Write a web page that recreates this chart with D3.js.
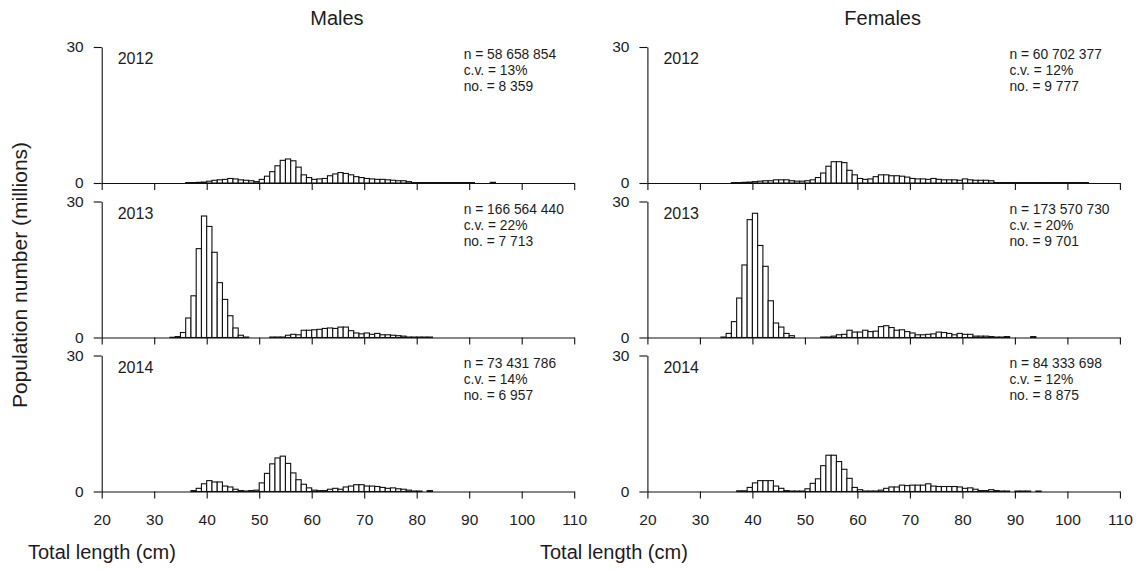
<!DOCTYPE html>
<html>
<head>
<meta charset="utf-8">
<script src="https://cdn.jsdelivr.net/npm/d3@7"></script>
<style>
  html, body { margin: 0; padding: 0; background: #fff; }
  svg { display: block; font-family: "Liberation Sans", Arial, sans-serif; }
</style>
</head>
<body>
<svg id="chart" width="1140" height="572"></svg>
<script>
// Length classes (1 cm bins, lower bound in cm)
const lengthClasses = d3.range(33, 105);

const sexes = ["Males", "Females"];
const years = ["2012", "2013", "2014"];

// Population numbers (millions) per 1 cm class, starting at 33 cm
const males2012 = [
  0, 0, 0, 0.1, 0.1, 0.15, 0.2, 0.4, 0.6, 0.7, 0.8, 1.0, 0.9, 0.7, 0.6, 0.5, 0.3,
  0.8, 1.5, 2.5, 3.8, 5.0, 5.3, 4.9, 3.5, 1.8, 1.2, 0.8, 0.9, 1.0, 1.6, 2.0, 2.3,
  2.1, 1.8, 1.4, 1.2, 1.0, 0.9, 0.8, 0.8, 0.7, 0.6, 0.5, 0.5, 0.3, 0.1, 0.1, 0.1,
  0.1, 0.1, 0.1, 0.1, 0.1, 0.1, 0.1, 0.1, 0.1, 0, 0, 0, 0.15, 0, 0, 0, 0, 0, 0, 0,
  0, 0, 0
];
const females2012 = [
  0, 0, 0, 0.1, 0.1, 0.15, 0.2, 0.3, 0.4, 0.5, 0.5, 0.7, 0.7, 0.7, 0.5, 0.4, 0.4,
  0.5, 0.7, 1.2, 2.2, 3.7, 4.7, 4.7, 4.5, 2.8, 1.8, 1.0, 0.8, 0.9, 1.4, 1.8, 1.8,
  1.6, 1.6, 1.5, 1.3, 1.0, 0.9, 0.9, 0.8, 1.0, 0.8, 0.7, 0.7, 0.7, 0.6, 0.9, 0.7,
  0.6, 0.6, 0.6, 0.5, 0.1, 0.1, 0.1, 0.1, 0.1, 0.1, 0.1, 0.1, 0.1, 0.1, 0.1, 0.1,
  0.1, 0.1, 0.1, 0.1, 0.1, 0.1, 0
];
const males2013 = [
  0.05, 0.2, 1.1, 4.3, 9.2, 19.6, 26.8, 24.5, 18.8, 12.1, 8.4, 4.8, 2.1, 0.5, 0.1,
  0, 0, 0, 0, 0.1, 0.1, 0.1, 0.5, 0.7, 0.6, 1.6, 1.6, 1.7, 1.8, 2.0, 2.1, 2.0, 2.3,
  2.3, 1.5, 1.0, 0.8, 1.0, 0.7, 0.9, 0.6, 0.6, 0.5, 0.4, 0.3, 0.1, 0.1, 0.1, 0.1,
  0.1, 0, 0, 0, 0, 0, 0, 0, 0, 0, 0, 0, 0, 0, 0, 0, 0, 0, 0, 0, 0, 0, 0
];
const females2013 = [
  0, 0.1, 0.9, 3.5, 8.7, 16.0, 26.0, 27.4, 20.3, 15.7, 8.1, 3.2, 2.3, 0.9, 0.4,
  0, 0, 0, 0, 0, 0.1, 0.1, 0.3, 0.6, 0.7, 1.6, 1.2, 1.2, 1.6, 1.3, 1.4, 2.4, 2.6,
  2.2, 1.6, 1.7, 1.3, 1.0, 0.6, 0.6, 0.7, 0.8, 1.2, 1.1, 0.9, 0.6, 0.9, 0.7, 0.7,
  0.3, 0.3, 0.3, 0.2, 0.1, 0.1, 0.2, 0, 0, 0, 0, 0.2, 0, 0, 0, 0, 0, 0, 0, 0, 0,
  0, 0
];
const males2014 = [
  0, 0, 0, 0, 0.2, 0.7, 1.7, 2.4, 2.1, 2.1, 1.2, 1.0, 0.5, 0.2, 0.1, 0.2, 0.3,
  1.9, 4.0, 6.1, 7.4, 7.8, 6.2, 4.1, 2.6, 1.6, 0.8, 0.3, 0.2, 0.2, 0.5, 0.7, 0.5,
  1.0, 1.2, 1.5, 1.5, 1.2, 1.2, 1.1, 0.9, 0.7, 0.8, 0.6, 0.5, 0.3, 0.1, 0.1, 0,
  0.2, 0, 0, 0, 0, 0, 0, 0, 0, 0, 0, 0, 0, 0, 0, 0, 0, 0, 0, 0, 0, 0, 0
];
const females2014 = [
  0, 0, 0, 0, 0.15, 0.15, 0.9, 1.9, 2.4, 2.4, 2.4, 1.2, 0.7, 0.2, 0.1, 0.1, 0.1,
  0.6, 1.8, 2.8, 5.7, 8.0, 8.0, 6.6, 4.9, 2.9, 0.9, 0.4, 0.1, 0.1, 0.1, 0.3, 0.7,
  1.0, 1.0, 1.4, 1.3, 1.4, 1.4, 1.4, 1.7, 1.2, 1.1, 1.1, 1.1, 1.1, 1.0, 0.7, 0.8,
  0.5, 0.2, 0.2, 0.4, 0.2, 0.1, 0.1, 0, 0.1, 0.1, 0.1, 0, 0.1, 0, 0, 0, 0, 0, 0, 0,
  0, 0, 0
];

// Survey summaries shown in each panel
const popTotals = [
  ["58 658 854", "166 564 440", "73 431 786"],
  ["60 702 377", "173 570 730", "84 333 698"]
];
const cvs = [["13%", "22%", "14%"], ["12%", "20%", "12%"]];
const sampleCounts = [["8 359", "7 713", "6 957"], ["9 777", "9 701", "8 875"]];

const xTicks = [20, 30, 40, 50, 60, 70, 80, 90, 100, 110];
const yTicks = [0, 30];

const seriesBySex = [
  [males2012, males2013, males2014],
  [females2012, females2013, females2014]
];

// ---- layout ----
const svg = d3.select("#chart");
const textColor = "#1c1c1c";
const panelLeft = [101.7, 647.4];
const panelWidth = 472.5;
const panelTop = [47, 201.5, 355.5];
const panelHeight = 136;

sexes.forEach((sex, si) => {
  const x = d3.scaleLinear().domain([20, 110]).range([panelLeft[si], panelLeft[si] + panelWidth]);

  svg.append("text")
    .attr("x", panelLeft[si] + panelWidth / 2 - 1)
    .attr("y", 25)
    .attr("text-anchor", "middle")
    .attr("font-size", 20)
    .attr("fill", textColor)
    .text(sex);

  years.forEach((yr, yi) => {
    const top = panelTop[yi];
    const y = d3.scaleLinear().domain([0, 30]).range([top + panelHeight, top]);
    const g = svg.append("g");
    const isBottom = yi === years.length - 1;

    // x axis (baseline with downward ticks)
    const xAxis = d3.axisBottom(x)
      .tickValues(xTicks)
      .tickSize(7)
      .tickSizeOuter(0)
      .tickPadding(15)
      .tickFormat(isBottom ? d3.format("d") : () => "");
    const gx = g.append("g")
      .attr("transform", `translate(0,${y(0)})`)
      .call(xAxis);
    gx.selectAll("path, line").attr("stroke", "#111").attr("stroke-width", 1.1);
    gx.selectAll("text").attr("font-size", 15.5).attr("fill", textColor)
      .attr("font-family", "Liberation Sans, Arial, sans-serif");

    // y axis
    const yAxis = d3.axisLeft(y)
      .tickValues(yTicks)
      .tickSize(8)
      .tickSizeOuter(0)
      .tickPadding(10)
      .tickFormat(d3.format("d"));
    const gy = g.append("g")
      .attr("transform", `translate(${x(20)},0)`)
      .call(yAxis);
    gy.selectAll("path, line").attr("stroke", "#111").attr("stroke-width", 1.1);
    gy.selectAll("text").attr("font-size", 15.5).attr("fill", textColor)
      .attr("font-family", "Liberation Sans, Arial, sans-serif");

    // histogram bars
    const values = seriesBySex[si][yi];
    const bins = lengthClasses.map((c, i) => ({ c, v: values[i] })).filter(d => d.v > 0);
    g.append("g").selectAll("rect")
      .data(bins)
      .join("rect")
      .attr("x", d => x(d.c))
      .attr("width", d => x(d.c + 1) - x(d.c))
      .attr("y", d => y(d.v))
      .attr("height", d => y(0) - y(d.v))
      .attr("fill", "#fff")
      .attr("stroke", "#111")
      .attr("stroke-width", 1.1);

    // year label
    g.append("text")
      .attr("x", x(20) + 16)
      .attr("y", top + 17)
      .attr("font-size", 16)
      .attr("fill", textColor)
      .text(yr);

    // sample summary
    const lines = [
      `n = ${popTotals[si][yi]}`,
      `c.v. = ${cvs[si][yi]}`,
      `no. = ${sampleCounts[si][yi]}`
    ];
    g.append("g").selectAll("text")
      .data(lines)
      .join("text")
      .attr("x", x(20) + 362)
      .attr("y", (d, i) => top + 12 + i * 16)
      .attr("font-size", 13.8)
      .attr("fill", textColor)
      .text(d => d);
  });

  // x axis title
  svg.append("text")
    .attr("x", si === 0 ? 28 : 540)
    .attr("y", 559)
    .attr("font-size", 20)
    .attr("fill", textColor)
    .text("Total length (cm)");
});

// y axis title
svg.append("text")
  .attr("transform", "translate(27,275) rotate(-90)")
  .attr("text-anchor", "middle")
  .attr("font-size", 21)
  .attr("fill", textColor)
  .text("Population number (millions)");
</script>
</body>
</html>
